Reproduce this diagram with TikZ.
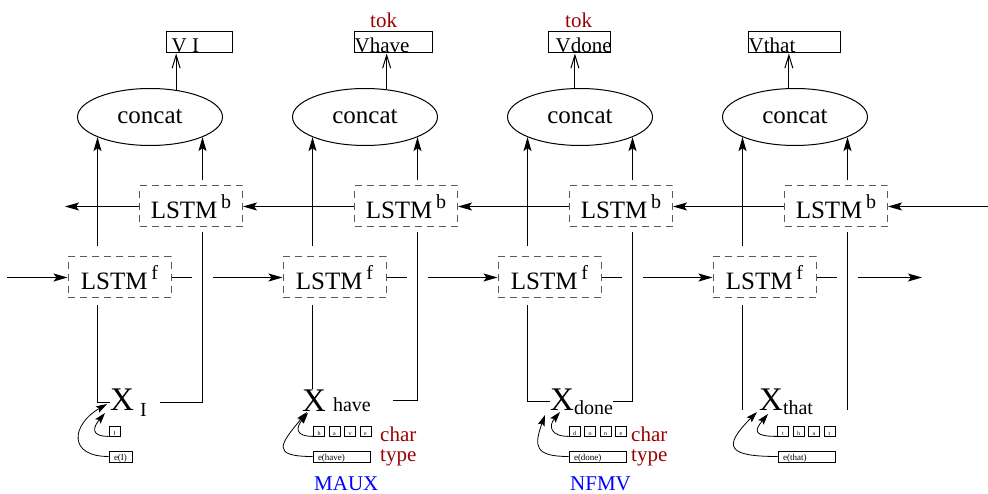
\documentclass[tikz,border=0pt]{standalone}
\usepackage{fontspec}
\setmainfont{Liberation Serif}
\usetikzlibrary{arrows.meta, shapes.geometric}
\definecolor{tokred}{RGB}{155,0,0}
\definecolor{tagblue}{RGB}{0,0,255}
\newcommand{\subfont}{\fontsize{20}{24}\selectfont}
\newcommand{\lstmtxt}[1]{LSTM\hspace{0.15em}\raisebox{0.4em}{\subfont #1}}

\begin{document}
\begin{tikzpicture}[
    x=1pt, y=1pt,
    concat/.style={ellipse, draw, line width=1pt, minimum width=145pt, minimum height=57pt, inner sep=0pt, font=\fontsize{25}{30}\selectfont},
    lstm/.style={draw=black!65, dash pattern=on 7pt off 5pt, line width=1pt, minimum width=103pt, minimum height=41pt, inner sep=0pt, font=\fontsize{25}{30}\selectfont},
    outbox/.style={draw, line width=1pt, minimum height=21pt, inner sep=0pt},
    outtext/.style={anchor=base west, inner sep=0pt, font=\fontsize{21}{24}\selectfont},
    xnode/.style={anchor=base west, inner sep=0pt, font=\fontsize{33}{36}\selectfont},
    charbox/.style={draw, line width=0.8pt, minimum width=11pt, minimum height=10pt, inner sep=0pt, text height=8pt, text depth=0pt, font=\fontsize{6}{6}\selectfont},
    wordbox/.style={draw, line width=0.8pt, minimum height=11pt, inner xsep=5pt, inner ysep=0pt, text width=#1, align=left, text height=8pt, text depth=0pt, font=\fontsize{9}{9}\selectfont},
    tag/.style={anchor=base west, inner sep=0pt, font=\fontsize{21}{24}\selectfont},
    line/.style={line width=1pt},
    farrow/.style={line width=1pt, -{Stealth[length=14pt,width=8pt,inset=3pt]}},
    oarrow/.style={line width=1pt, -{Straight Barb[length=13pt,width=8pt]}},
    curvearrow/.style={line width=0.8pt, -{Stealth[length=11pt,width=7pt,inset=2pt]}},
    gapline/.style={line width=1pt, preaction={draw=white, line width=21pt}}
]
    \useasboundingbox (0,0) rectangle (988,493);

    \node[concat] (c1) at (150,376) {concat};
    \node[concat] (c2) at (365,376) {concat};
    \node[concat] (c3) at (580,376) {concat};
    \node[concat] (c4) at (795,376) {concat};

    \node[outbox, minimum width=66pt] (o1) at (199,450.5) {};
    \node[outbox, minimum width=78pt] (o2) at (393,450.5) {};
    \node[outbox, minimum width=62pt] (o3) at (579,450.5) {};
    \node[outbox, minimum width=92pt] (o4) at (794,450.5) {};
    \node[outtext] (t1) at ([xshift=6pt,yshift=1pt]o1.south west) {V I};
    \node[outtext] (t2) at ([xshift=1pt,yshift=1pt]o2.south west) {Vhave};
    \node[outtext] (t3) at ([xshift=8pt,yshift=1pt]o3.south west) {Vdone};
    \node[outtext] (t4) at ([xshift=1pt,yshift=1pt]o4.south west) {Vthat};
    \node[tag, tokred] (tok2) at (370,465) {tok};
    \node[tag, tokred] (tok3) at (565,465) {tok};

    \node[lstm] (b1) at (191,286.5) {\lstmtxt{b}};
    \node[lstm] (b2) at (406,286.5) {\lstmtxt{b}};
    \node[lstm] (b3) at (621,286.5) {\lstmtxt{b}};
    \node[lstm] (b4) at (836,286.5) {\lstmtxt{b}};
    \node[lstm] (f1) at (119.5,215.5) {\lstmtxt{f}};
    \node[lstm] (f2) at (334.5,215.5) {\lstmtxt{f}};
    \node[lstm] (f3) at (549.5,215.5) {\lstmtxt{f}};
    \node[lstm] (f4) at (764.5,215.5) {\lstmtxt{f}};

    \coordinate (fin) at (7,215.5);
    \coordinate (fout) at (922,215.5);
    \coordinate (bin) at (988,286.5);
    \coordinate (bout) at (65,286.5);

    \node[xnode] (x1) at (110,83) {X\hspace{6pt}\raisebox{-6pt}{\subfont I}};
    \node[xnode] (x2) at (302,82) {X\hspace{7pt}{\subfont have}};
    \node[xnode] (x3) at (550,83) {X\raisebox{-5pt}{\subfont done}};
    \node[xnode] (x4) at (759,83) {X\raisebox{-5pt}{\subfont that}};

    \node[charbox] (ch1-1) at (114.5,62) {I};
    \node[charbox] (ch2-1) at (319,62) {h};
    \node[charbox] (ch2-2) at (334.5,62) {a};
    \node[charbox] (ch2-3) at (350,62) {v};
    \node[charbox] (ch2-4) at (365.5,62) {e};
    \node[charbox] (ch3-1) at (574.5,62) {d};
    \node[charbox] (ch3-2) at (590,62) {o};
    \node[charbox] (ch3-3) at (605.5,62) {n};
    \node[charbox] (ch3-4) at (621,62) {e};
    \node[charbox] (ch4-1) at (783,62) {t};
    \node[charbox] (ch4-2) at (798.5,62) {h};
    \node[charbox] (ch4-3) at (814,62) {a};
    \node[charbox] (ch4-4) at (829.5,62) {t};

    \node[wordbox=13pt] (w1) at (120.5,36.5) {e(I)};
    \node[wordbox=47pt] (w2) at (341.5,36.5) {e(have)};
    \node[wordbox=47pt] (w3) at (597.5,36.5) {e(done)};
    \node[wordbox=47pt] (w4) at (806.5,36.5) {e(that)};

    \node[tag, tokred] (char2) at (380,52) {char};
    \node[tag, tokred] (type2) at (380,32) {type};
    \node[tag, tokred] (char3) at (631,52) {char};
    \node[tag, tokred] (type3) at (631,32) {type};
    \node[tag, tagblue] (maux) at (314,3) {MAUX};
    \node[tag, tagblue] (nfmv) at (570,3) {NFMV};

    \draw[oarrow] (c1.46) -- (c1.46 |- o1.south);
    \draw[oarrow] (c2.52) -- (c2.52 |- o2.south);
    \draw[oarrow] (c3.100) -- (c3.100 |- o3.south);
    \draw[oarrow] (c4.102) -- (c4.102 |- o4.south);

    \draw[farrow, shorten <=10pt] (c1.-159 |- f1.north) -- (c1.-159);
    \draw[farrow, shorten <=10pt] (c2.-159 |- f2.north) -- (c2.-159);
    \draw[farrow, shorten <=10pt] (c3.-159 |- f3.north) -- (c3.-159);
    \draw[farrow, shorten <=10pt] (c4.-159 |- f4.north) -- (c4.-159);
    \draw[farrow, shorten <=5pt] (c1.-21 |- b1.north) -- (c1.-21);
    \draw[farrow, shorten <=5pt] (c2.-21 |- b2.north) -- (c2.-21);
    \draw[farrow, shorten <=5pt] (c3.-21 |- b3.north) -- (c3.-21);
    \draw[farrow, shorten <=5pt] (c4.-21 |- b4.north) -- (c4.-21);

    \draw[farrow] (bin) -- (b4);
    \draw[farrow] (b4) -- (b3);
    \draw[farrow] (b3) -- (b2);
    \draw[farrow] (b2) -- (b1);
    \draw[farrow] (b1) -- (bout);

    \draw[farrow] (fin) -- (f1);
    \draw[farrow] (f1) -- (f2);
    \draw[farrow] (f2) -- (f3);
    \draw[farrow] (f3) -- (f4);
    \draw[farrow] (f4) -- (fout);

    \draw[gapline, shorten <=5pt, shorten >=13pt] (c1.-21 |- b1.south) |- (x1.east);
    \draw[gapline, shorten <=5pt, shorten >=22pt] (c2.-21 |- b2.south) |- (x2.east);
    \draw[gapline, shorten <=5pt] (c3.-21 |- b3.south) |- (x3.east);
    \draw[gapline, shorten <=5pt] (c4.-21 |- b4.south) -- (c4.-21 |- x4.base);

    \draw[line, shorten <=7pt] (c1.-159 |- f1.south) |- (x1.west);
    \draw[line, shorten <=7pt] (c2.-159 |- f2.south) -- (c2.-159 |- x2.north);
    \draw[line, shorten <=7pt] (c3.-159 |- f3.south) |- (x3.west);
    \draw[line, shorten <=7pt] (c4.-159 |- f4.south) -- (c4.-159 |- x4.base);

    \draw[curvearrow] (ch1-1.south west) to[out=180, in=230, looseness=2] ([shift={(-5pt,-3pt)}]x1.base west);
    \draw[curvearrow] (w1.west) to[out=180, in=210, looseness=2] ([shift={(-3pt,6pt)}]x1.base west);
    \draw[curvearrow] (ch2-1.south west) to[out=180, in=230, looseness=2] ([shift={(6pt,-2pt)}]x2.base west);
    \draw[curvearrow] (w2.west) to[out=180, in=230, looseness=2.4] ([shift={(5pt,-1pt)}]x2.base west);
    \draw[curvearrow] (ch3-1.south west) to[out=180, in=230, looseness=1.8] ([shift={(10pt,-2pt)}]x3.base west);
    \draw[curvearrow] (w3.west) to[out=180, in=250, looseness=1.8] ([shift={(-5pt,-5pt)}]x3.base west);
    \draw[curvearrow] (ch4-1.south west) to[out=180, in=230, looseness=2.4] ([shift={(9pt,-4pt)}]x4.base west);
    \draw[curvearrow] (w4.west) to[out=180, in=225, looseness=2.6] ([shift={(-2pt,-2pt)}]x4.base west);
\end{tikzpicture}
\end{document}
